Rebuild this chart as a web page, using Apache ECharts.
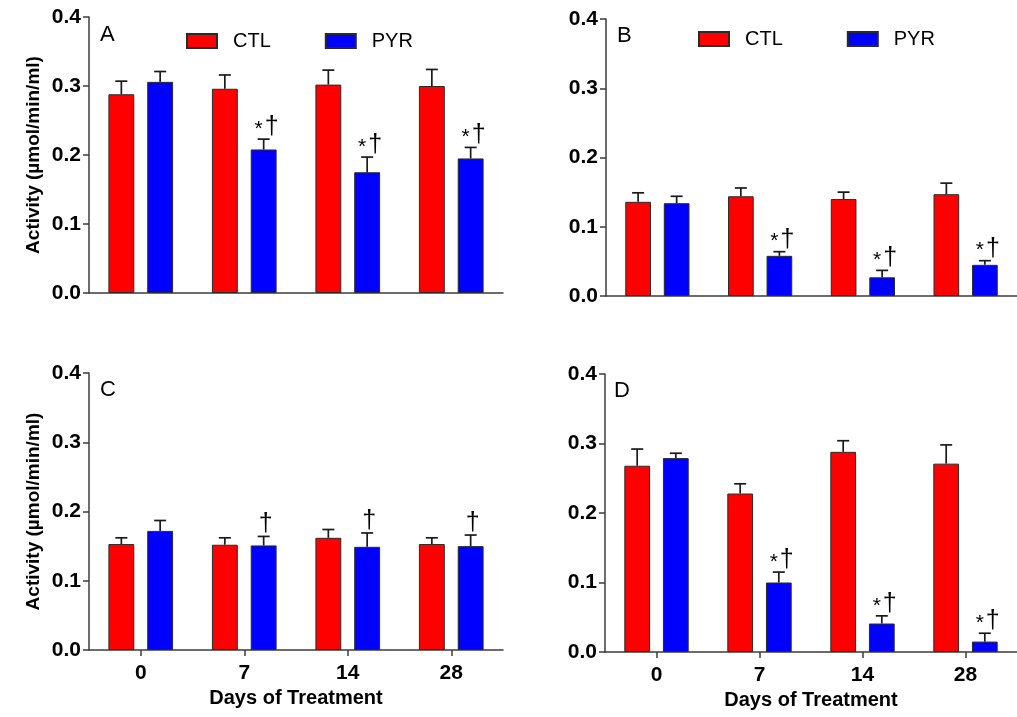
<!DOCTYPE html>
<html>
<head>
<meta charset="utf-8">
<script src="https://cdn.jsdelivr.net/npm/echarts@6/dist/echarts.min.js"></script>
<style>
  html, body { margin: 0; padding: 0; background: #fff; }
  #chart { width: 1017px; height: 717px; }
</style>
</head>
<body>
<div id="chart"></div>
<script>
const days = ['0', '7', '14', '28']
const yTicks = [0, 0.1, 0.2, 0.3, 0.4]

// panel A
const ctlA = [0.288, 0.296, 0.302, 0.300]
const ctlAErr = [0.019, 0.020, 0.021, 0.024]
const pyrA = [0.306, 0.208, 0.175, 0.195]
const pyrAErr = [0.015, 0.015, 0.022, 0.016]
const markA = ['', '*†', '*†', '*†']

// panel B
const ctlB = [0.136, 0.144, 0.140, 0.147]
const ctlBErr = [0.013, 0.012, 0.010, 0.016]
const pyrB = [0.134, 0.058, 0.027, 0.045]
const pyrBErr = [0.010, 0.006, 0.010, 0.006]
const markB = ['', '*†', '*†', '*†']

// panel C
const ctlC = [0.153, 0.152, 0.162, 0.153]
const ctlCErr = [0.009, 0.010, 0.012, 0.009]
const pyrC = [0.172, 0.151, 0.149, 0.150]
const pyrCErr = [0.015, 0.013, 0.020, 0.016]
const markC = ['', '†', '†', '†']

// panel D
const ctlD = [0.268, 0.228, 0.288, 0.271]
const ctlDErr = [0.024, 0.014, 0.016, 0.027]
const pyrD = [0.279, 0.100, 0.041, 0.015]
const pyrDErr = [0.007, 0.015, 0.011, 0.012]
const markD = ['', '*†', '*†', '*†']

const font = 'Liberation Sans, Arial, sans-serif'
const axisColor = '#3c3c3c'

const panels = [
  { letter: 'A', ctl: ctlA, ctlErr: ctlAErr, pyr: pyrA, pyrErr: pyrAErr, mark: markA,
    grid: { left: 89, top: 17, right: 514, bottom: 424 }, yName: true, xLabels: false },
  { letter: 'B', ctl: ctlB, ctlErr: ctlBErr, pyr: pyrB, pyrErr: pyrBErr, mark: markB,
    grid: { left: 606, top: 19, right: -6, bottom: 421 }, yName: false, xLabels: false },
  { letter: 'C', ctl: ctlC, ctlErr: ctlCErr, pyr: pyrC, pyrErr: pyrCErr, mark: markC,
    grid: { left: 89, top: 373, right: 514, bottom: 67 }, yName: true, xLabels: true },
  { letter: 'D', ctl: ctlD, ctlErr: ctlDErr, pyr: pyrD, pyrErr: pyrDErr, mark: markD,
    grid: { left: 605, top: 374, right: -6, bottom: 65 }, yName: false, xLabels: true }
]

const letterPos = [[100, 24], [617, 25], [100, 379], [614, 380]]

const grids = []
const xAxes = []
const yAxes = []
const series = []
const titles = []

panels.forEach((p, k) => {
  grids.push(p.grid)
  titles.push({
    text: p.letter, left: letterPos[k][0], top: letterPos[k][1], padding: 0,
    textStyle: { fontFamily: font, fontSize: 22, fontWeight: 'normal', color: '#000' }
  })
  xAxes.push({
    type: 'category', gridIndex: k, data: days,
    axisLine: { lineStyle: { color: axisColor, width: 1.5 } },
    axisTick: { show: p.xLabels, alignWithLabel: true, length: 6, lineStyle: { color: axisColor, width: 1.5 } },
    axisLabel: { show: p.xLabels, margin: 13, color: '#000', fontFamily: font, fontSize: 21, fontWeight: 'bold' },
    name: p.xLabels ? 'Days of Treatment' : '',
    nameLocation: 'middle', nameGap: 38,
    nameTextStyle: { color: '#000', fontFamily: font, fontSize: 20, fontWeight: 'bold' }
  })
  yAxes.push({
    type: 'value', gridIndex: k, min: yTicks[0], max: yTicks[yTicks.length - 1], interval: 0.1,
    splitLine: { show: false },
    axisLine: { show: true, lineStyle: { color: axisColor, width: 1.5 } },
    axisTick: { show: true, length: 6, lineStyle: { color: axisColor, width: 1.5 } },
    axisLabel: { margin: 8, color: '#000', fontFamily: font, fontSize: 21, fontWeight: 'bold',
      formatter: v => v.toFixed(1) },
    name: p.yName ? 'Activity (µmol/min/ml)' : '',
    nameLocation: 'middle', nameGap: 46, nameRotate: 90,
    nameTextStyle: { color: '#000', fontFamily: font, fontSize: 19, fontWeight: 'bold' }
  })
  series.push({
    name: 'CTL', type: 'bar', xAxisIndex: k, yAxisIndex: k, data: p.ctl,
    barWidth: '25%', barGap: '50%',
    itemStyle: { color: '#ff0000', borderColor: '#2a2a2a', borderWidth: 1 }
  })
  series.push({
    name: 'PYR', type: 'bar', xAxisIndex: k, yAxisIndex: k, data: p.pyr,
    barWidth: '25%', barGap: '50%',
    itemStyle: { color: '#0000ff', borderColor: '#2a2a2a', borderWidth: 1 }
  })
  const items = []
  const marks = []
  p.ctl.forEach((v, i) => { items.push([i, v, p.ctlErr[i], -1]); marks.push('') })
  p.pyr.forEach((v, i) => { items.push([i, v, p.pyrErr[i], 1]); marks.push(p.mark[i]) })
  series.push({
    type: 'custom', xAxisIndex: k, yAxisIndex: k, z: 3, silent: true,
    data: items,
    renderItem: (params, api) => {
      const i = api.value(0), v = api.value(1), e = api.value(2), side = api.value(3)
      const band = api.size([1, 0])[0]
      const base = api.coord([i, v])
      const top = api.coord([i, v + e])
      const x = base[0] + side * band * 0.1875
      const half = 6
      const st = { stroke: '#1a1a1a', lineWidth: 1.7 }
      const children = [
        { type: 'line', shape: { x1: x, y1: base[1], x2: x, y2: top[1] }, style: st },
        { type: 'line', shape: { x1: x - half, y1: top[1], x2: x + half, y2: top[1] }, style: st }
      ]
      const m = marks[params.dataIndex]
      if (m) {
        const hasStar = m.indexOf('*') >= 0
        const dx = hasStar ? 8 : 2
        children.push({
          type: 'text', x: x + dx, y: top[1] - 12,
          style: { text: '†', fill: '#000', font: '25px ' + font, textAlign: 'center', textVerticalAlign: 'middle' }
        })
        if (hasStar) {
          children.push({
            type: 'text', x: x - 5, y: top[1] - 10,
            style: { text: '*', fill: '#000', font: '21px ' + font, textAlign: 'center', textVerticalAlign: 'middle' }
          })
        }
      }
      return { type: 'group', children }
    }
  })
})

const legendText = { fontFamily: font, fontSize: 20, color: '#000', padding: [0, 0, 0, 11] }

const option = {
  animation: false,
  backgroundColor: '#fff',
  title: titles,
  legend: [
    { data: ['CTL', 'PYR'], left: 186, top: 31, itemWidth: 30, itemHeight: 14, itemGap: 54,
      icon: 'rect', padding: 0, selectedMode: false, textStyle: legendText },
    { data: ['CTL', 'PYR'], left: 698, top: 29, itemWidth: 30, itemHeight: 14, itemGap: 64,
      icon: 'rect', padding: 0, selectedMode: false, textStyle: legendText }
  ],
  grid: grids,
  xAxis: xAxes,
  yAxis: yAxes,
  series: series
}

const chart = echarts.init(document.getElementById('chart'), null, { renderer: 'canvas' })
chart.setOption(option)
</script>
</body>
</html>
